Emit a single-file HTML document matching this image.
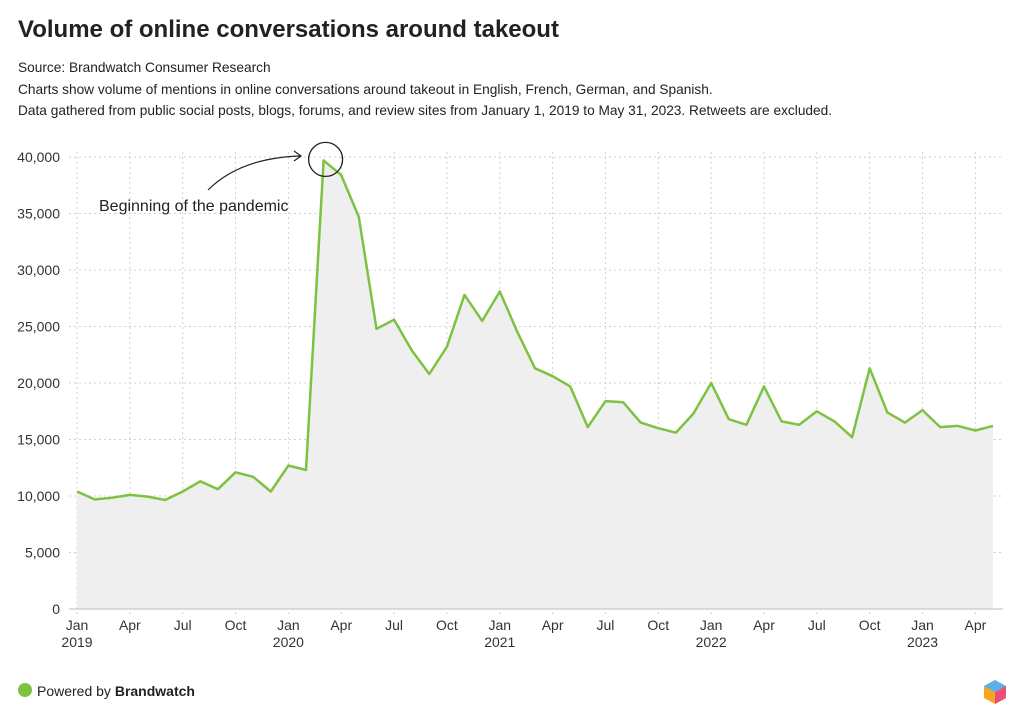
<!DOCTYPE html>
<html><head><meta charset="utf-8"><style>
body{margin:0;background:#fff;font-family:"Liberation Sans",sans-serif;color:#222}
#wrap{position:relative;width:1024px;height:725px;overflow:hidden}
h1{position:absolute;left:18px;top:16px;margin:0;font-size:24px;font-weight:bold;color:#222}
.sub{position:absolute;left:18px;font-size:13.7px;color:#222}
</style></head><body><div id="wrap">
<h1>Volume of online conversations around takeout</h1>
<div class="sub" style="top:60px">Source: Brandwatch Consumer Research</div>
<div class="sub" style="top:82px">Charts show volume of mentions in online conversations around takeout in English, French, German, and Spanish.</div>
<div class="sub" style="top:103px">Data gathered from public social posts, blogs, forums, and review sites from January 1, 2019 to May 31, 2023. Retweets are excluded.</div>
<svg id="chart" width="1024" height="725" style="position:absolute;left:0;top:0"></svg>
<div style="position:absolute;left:18px;top:683px;width:14px;height:14px;border-radius:50%;background:#7dc242"></div>
<div style="position:absolute;left:37px;top:683px;font-size:14px">Powered by <b>Brandwatch</b></div>
<svg style="position:absolute;left:983px;top:679px" width="24" height="26">
<polygon points="12,1 23,7 23,19 12,25 1,19 1,7" fill="#f6a623"/><polygon points="12,1 23,7 12,13 1,7" fill="#5bb0e8"/><polygon points="12,13 23,7 23,19 12,25" fill="#e8507a"/></svg>
</div>
<script>
const months=["Jan 2019","Feb","Mar","Apr","May","Jun","Jul","Aug","Sep","Oct","Nov","Dec","Jan 2020","Feb","Mar","Apr","May","Jun","Jul","Aug","Sep","Oct","Nov","Dec","Jan 2021","Feb","Mar","Apr","May","Jun","Jul","Aug","Sep","Oct","Nov","Dec","Jan 2022","Feb","Mar","Apr","May","Jun","Jul","Aug","Sep","Oct","Nov","Dec","Jan 2023","Feb","Mar","Apr","May"];
const volume=[10400,9700,9850,10100,9950,9650,10400,11300,10600,12100,11700,10400,12700,12300,39700,38400,34700,24800,25600,22900,20800,23200,27800,25500,28100,24500,21300,20600,19700,16100,18400,18300,16500,16000,15600,17300,20000,16800,16300,19700,16600,16300,17500,16600,15200,21300,17400,16500,17600,16100,16200,15800,16200];
const yTicks=[0,5000,10000,15000,20000,25000,30000,35000,40000];
const xTickIdx=[0,3,6,9,12,15,18,21,24,27,30,33,36,39,42,45,48,51];
const xTickLabels=["Jan","Apr","Jul","Oct","Jan","Apr","Jul","Oct","Jan","Apr","Jul","Oct","Jan","Apr","Jul","Oct","Jan","Apr"];
const yearIdx=[0,12,24,36,48];
const yearLabels=["2019","2020","2021","2022","2023"];
const svg=document.getElementById('chart');const NS="http://www.w3.org/2000/svg";
const X0=77,X1=993,Y0=609,Y1=157,R=1003;
const x=i=>X0+(X1-X0)*i/(months.length-1);
const y=v=>Y0-(Y0-Y1)*v/40000;
function mk(t,a){const e=document.createElementNS(NS,t);for(const k in a)e.setAttribute(k,a[k]);svg.appendChild(e);return e;}
yTicks.forEach(v=>{
 const l=mk('line',{x1:X0-8,x2:R,y1:y(v),y2:y(v),stroke:'#d0d0d0','stroke-dasharray':'2,3'});
 
 
 const t=mk('text',{x:60,y:y(v)+5,'text-anchor':'end','font-size':14,fill:'#333','font-family':'Liberation Sans, sans-serif'});t.textContent=v.toLocaleString('en-US');
 
 
});
xTickIdx.forEach((i,k)=>{
 const l=mk('line',{x1:x(i),x2:x(i),y1:Y1-5,y2:Y0+6,stroke:'#d0d0d0','stroke-dasharray':'2,3'});
 
 
 const t=mk('text',{x:x(i),y:630,'text-anchor':'middle','font-size':14,fill:'#333','font-family':'Liberation Sans, sans-serif'});t.textContent=xTickLabels[k];
 
 
});
yearIdx.forEach((i,k)=>{
 const t=mk('text',{x:x(i),y:647,'text-anchor':'middle','font-size':14,fill:'#333','font-family':'Liberation Sans, sans-serif'});t.textContent=yearLabels[k];
 
 
});
let pts=volume.map((v,i)=>x(i).toFixed(1)+','+y(v).toFixed(1)).join(' ');
const area=mk('polygon',{points:x(0)+','+Y0+' '+pts+' '+x(volume.length-1)+','+Y0,fill:'#efefef'});


const ax=mk('line',{x1:X0-8,x2:R,y1:Y0,y2:Y0,stroke:'#bbb'});


const line=mk('polyline',{points:pts,fill:'none',stroke:'#7dc242','stroke-width':2.5,'stroke-linejoin':'round'});


const pi=volume.indexOf(Math.max(...volume));
const c=mk('circle',{cx:x(pi)+2,cy:y(volume[pi])-1,r:17,fill:'none',stroke:'#222','stroke-width':1.3});


const ar=mk('path',{d:'M208,190 Q240,158 300,156 M294,151 L301,156 L294,161',fill:'none',stroke:'#222','stroke-width':1.2});


const an=mk('text',{x:99,y:211,'font-size':16,fill:'#222','font-family':'Liberation Sans, sans-serif'});an.textContent='Beginning of the pandemic';


</script></body></html>
